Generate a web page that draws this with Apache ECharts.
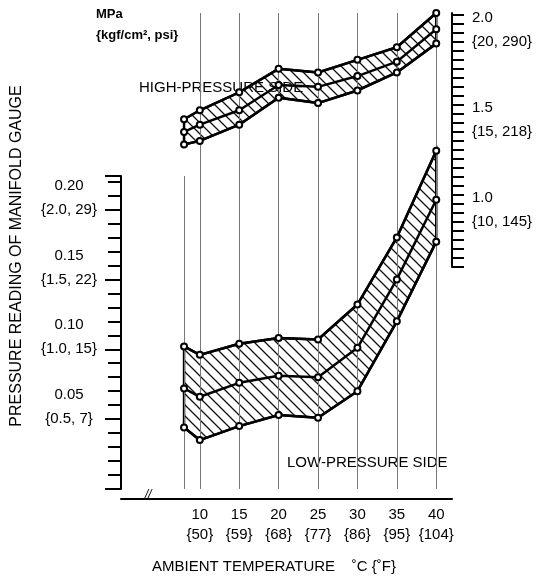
<!DOCTYPE html>
<html>
<head>
<meta charset="utf-8">
<script src="https://cdn.jsdelivr.net/npm/echarts@6/dist/echarts.min.js"></script>
<style>
  html, body { margin: 0; padding: 0; background: #fff; }
  #chart { width: 558px; height: 588px; }
</style>
</head>
<body>
<div id="chart"></div>
<script>
// ambient temperature, °C
const temps = [8, 10, 15, 20, 25, 30, 35, 40]
const fahrenheit = { 10: 50, 15: 59, 20: 68, 25: 77, 30: 86, 35: 95, 40: 104 }

// low-pressure side, MPa (left axis)
const lowTop = [0.102, 0.096, 0.104, 0.108, 0.107, 0.132, 0.180, 0.242]
const lowMid = [0.072, 0.066, 0.076, 0.081, 0.080, 0.101, 0.150, 0.207]
const lowBot = [0.044, 0.035, 0.045, 0.053, 0.051, 0.070, 0.120, 0.177]

// high-pressure side, MPa (right axis)
const highTop = [1.57, 1.62, 1.72, 1.85, 1.83, 1.90, 1.97, 2.16]
const highMid = [1.50, 1.54, 1.62, 1.76, 1.75, 1.81, 1.89, 2.07]
const highBot = [1.43, 1.45, 1.54, 1.69, 1.66, 1.73, 1.83, 1.99]

// tick labels {kgf/cm2, psi}
const leftUnits = { '0.05': '{0.5, 7}', '0.1': '{1.0, 15}', '0.15': '{1.5, 22}', '0.2': '{2.0, 29}' }
const rightUnits = { '1': '{10, 145}', '1.5': '{15, 218}', '2': '{20, 290}' }

const FONT = 'Liberation Sans'

// hatch pattern
function hatch() {
  const c = document.createElement('canvas')
  c.width = 11
  c.height = 11
  const ctx = c.getContext('2d')
  ctx.strokeStyle = '#111'
  ctx.lineWidth = 1.3
  ctx.beginPath()
  ctx.moveTo(-1, -1); ctx.lineTo(12, 12)
  ctx.moveTo(-6.5, 4.5); ctx.lineTo(6.5, 17.5)
  ctx.moveTo(4.5, -6.5); ctx.lineTo(17.5, 6.5)
  ctx.stroke()
  return { image: c, repeat: 'repeat' }
}
const pattern = hatch()

const pts = arr => temps.map((t, i) => [t, arr[i]])

function edge(data, xi, yi) {
  return {
    type: 'line', xAxisIndex: xi, yAxisIndex: yi, data: pts(data), clip: false,
    symbol: 'emptyCircle', symbolSize: 6, z: 5,
    lineStyle: { color: '#000', width: 2.5 },
    itemStyle: { color: '#000', borderWidth: 1.5 }
  }
}

// hatched polygon between top and bottom edges, closed by verticals at ends
function band(top, bot, xi, yi) {
  return {
    type: 'custom', xAxisIndex: xi, yAxisIndex: yi, data: [0], clip: false, z: 3,
    renderItem: (params, api) => {
      const poly = temps.map((t, i) => api.coord([t, top[i]]))
        .concat(temps.map((t, i) => api.coord([t, bot[i]])).reverse())
      return {
        type: 'polygon',
        shape: { points: poly },
        style: { fill: pattern, stroke: '#000', lineWidth: 2.5 }
      }
    }
  }
}

const xBase = { type: 'value', min: 0, max: 42, interval: 5 }

const option = {
  animation: false,
  grid: [
    { left: 121, right: 106, top: 176, bottom: 99 },
    { left: 121, right: 106, top: 13, bottom: 321 }
  ],
  xAxis: [
    Object.assign({}, xBase, {
      gridIndex: 0, offset: 10,
      axisLine: { onZero: false, lineStyle: { color: '#000', width: 2 } },
      axisTick: { show: false }, splitLine: { show: false },
      axisLabel: {
        color: '#000', fontFamily: FONT, fontSize: 15, lineHeight: 20, margin: 6,
        formatter: v => (v >= 10 ? v + '\n{' + fahrenheit[v] + '}' : '')
      }
    }),
    Object.assign({}, xBase, { gridIndex: 1, show: false })
  ],
  yAxis: [
    {
      type: 'value', gridIndex: 0, min: 0, max: 0.224, interval: 0.05,
      axisLine: { show: true, onZero: false, lineStyle: { color: '#000', width: 2 } },
      axisTick: { show: true, inside: false, length: 16, lineStyle: { color: '#000', width: 2 } },
      minorTick: { show: true, splitNumber: 5, length: 13, lineStyle: { color: '#000', width: 2 } },
      splitLine: { show: false },
      axisLabel: {
        color: '#000', fontFamily: FONT, fontSize: 15, lineHeight: 24, align: 'center', margin: 52,
        formatter: v => {
          const u = leftUnits[String(+v.toFixed(3))]
          return u ? v.toFixed(2) + '\n' + u + '\n ' : ''
        }
      }
    },
    {
      type: 'value', gridIndex: 1, position: 'right', min: 0.75, max: 2.16, interval: 0.05,
      axisLine: { show: true, onZero: false, lineStyle: { color: '#000', width: 2 } },
      axisTick: { show: true, length: 12, lineStyle: { color: '#000', width: 2 } },
      splitLine: { show: false },
      axisLabel: {
        color: '#000', fontFamily: FONT, fontSize: 15, lineHeight: 24, align: 'left', margin: 20,
        showMaxLabel: false,
        formatter: v => {
          const u = rightUnits[String(+v.toFixed(2))]
          return u ? v.toFixed(1) + '\n' + u + '\n ' : ''
        }
      }
    }
  ],
  series: [
    // vertical guide lines
    { type: 'line', xAxisIndex: 0, yAxisIndex: 0, data: [],
      markLine: { symbol: 'none', silent: true, label: { show: false },
        lineStyle: { color: '#777', width: 1, type: 'solid' },
        data: temps.map(t => ({ xAxis: t })) } },
    { type: 'line', xAxisIndex: 1, yAxisIndex: 1, data: [],
      markLine: { symbol: 'none', silent: true, label: { show: false },
        lineStyle: { color: '#777', width: 1, type: 'solid' },
        data: temps.filter(t => t >= 10).map(t => ({ xAxis: t })) } },
    band(lowTop, lowBot, 0, 0),
    band(highTop, highBot, 1, 1),
    edge(lowTop, 0, 0), edge(lowMid, 0, 0), edge(lowBot, 0, 0),
    edge(highTop, 1, 1), edge(highMid, 1, 1), edge(highBot, 1, 1)
  ],
  graphic: [
    { type: 'text', left: 96, top: 8, style: { text: 'MPa', font: 'bold 13px "Liberation Sans"', fill: '#000' } },
    { type: 'text', left: 96, top: 29, style: { text: '{kgf/cm², psi}', font: 'bold 13px "Liberation Sans"', fill: '#000' } },
    { type: 'text', left: 139, top: 80, style: { text: 'HIGH-PRESSURE SIDE', font: '15px "Liberation Sans"', fill: '#000' } },
    { type: 'text', left: 287, top: 455, style: { text: 'LOW-PRESSURE SIDE', font: '15px "Liberation Sans"', fill: '#000' } },
    { type: 'text', left: 152, top: 559, style: { text: 'AMBIENT TEMPERATURE    ˚C {˚F}', font: '15px "Liberation Sans"', fill: '#000' } },
    { type: 'text', x: 17, y: 256, rotation: Math.PI / 2,
      style: { text: 'PRESSURE READING OF MANIFOLD GAUGE', font: '16px "Liberation Sans"', fill: '#000',
        align: 'center', verticalAlign: 'middle' } },
    { type: 'text', left: 145, top: 489, style: { text: '//', font: 'italic 12px "Liberation Sans"', fill: '#000',
        backgroundColor: '#fff' } }
  ]
}

const chart = echarts.init(document.getElementById('chart'), null, { renderer: 'canvas' })
chart.setOption(option)
</script>
</body>
</html>
